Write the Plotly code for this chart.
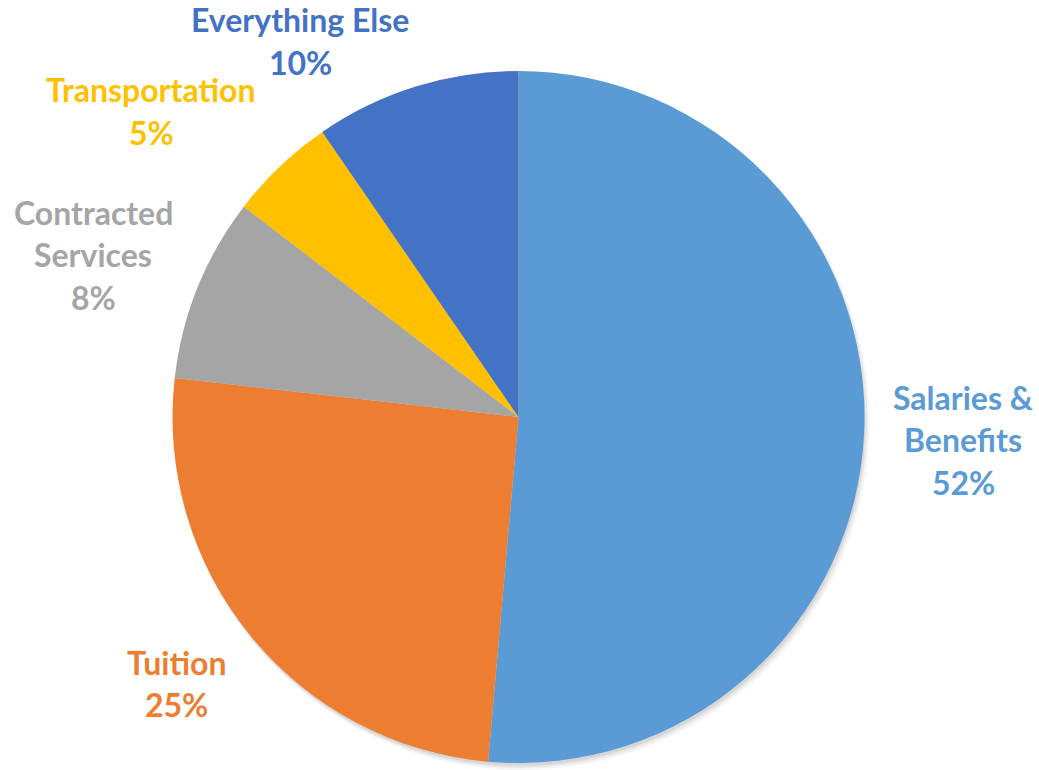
import plotly.graph_objects as go

# Data (slice sizes; printed labels as shown)
categories = ["Salaries & Benefits", "Tuition", "Contracted Services", "Transportation", "Everything Else"]
values = [51.4, 25.4, 8.6, 5.0, 9.6]
pct_labels = ["52%", "25%", "8%", "5%", "10%"]
label_lines = [["Salaries &", "Benefits"], ["Tuition"], ["Contracted", "Services"], ["Transportation"], ["Everything Else"]]

# Styles
colors = ["#5B9BD5", "#ED7D31", "#A5A5A5", "#FFC000", "#4472C4"]
# label block centres (pixels in the 1039x770 page), top line y
label_px = [(963, 397), (176, 662), (93, 212), (151, 90), (300, 20)]
LINE_H = 42.5
FONT_SIZE = 32

W, H = 1039, 770
ML, MR, MT, MB = 172, 174, 71, 7
PW, PH = W - ML - MR, H - MT - MB


def to_paper(px, py):
    return (px - ML) / PW, 1 - (py - MT) / PH


fig = go.Figure()
fig.add_trace(go.Pie(
    labels=categories, values=values, sort=False, direction="clockwise", rotation=0,
    marker=dict(colors=colors, line=dict(width=0)), textinfo="none", hoverinfo="label+percent",
    showlegend=False, domain=dict(x=[0, 1], y=[0, 1]),
))

annotations = []
for lines, pct, c, (px, py) in zip(label_lines, pct_labels, colors, label_px):
    all_lines = lines + [pct]
    for i, t in enumerate(all_lines):
        x, y = to_paper(px, py + i * LINE_H)
        annotations.append(dict(
            x=x, y=y, xref="paper", yref="paper", text=f"<b>{t}</b>", showarrow=False,
            xanchor="center", yanchor="middle",
            font=dict(family="Lato, Open Sans, sans-serif", size=FONT_SIZE, color=c),
        ))

# soft shadow behind the pie
cx, cy = ML + PW / 2, MT + PH / 2
r = min(PW, PH) / 2
shapes = []
for k, op in [(7, 0.04), (5, 0.05), (3, 0.07)]:
    x0, y0 = to_paper(cx - r + 2, cy - r + 4)
    x1, y1 = to_paper(cx + r + k - 2, cy + r + k)
    shapes.append(dict(type="circle", xref="paper", yref="paper", x0=x0, y0=y1, x1=x1, y1=y0,
                       fillcolor=f"rgba(0,0,0,{op})", line=dict(width=0), layer="below"))

fig.update_layout(
    width=W, height=H, margin=dict(l=ML, r=MR, t=MT, b=MB),
    paper_bgcolor="white", plot_bgcolor="white",
    annotations=annotations, shapes=shapes,
)
fig.write_html("out.html")
